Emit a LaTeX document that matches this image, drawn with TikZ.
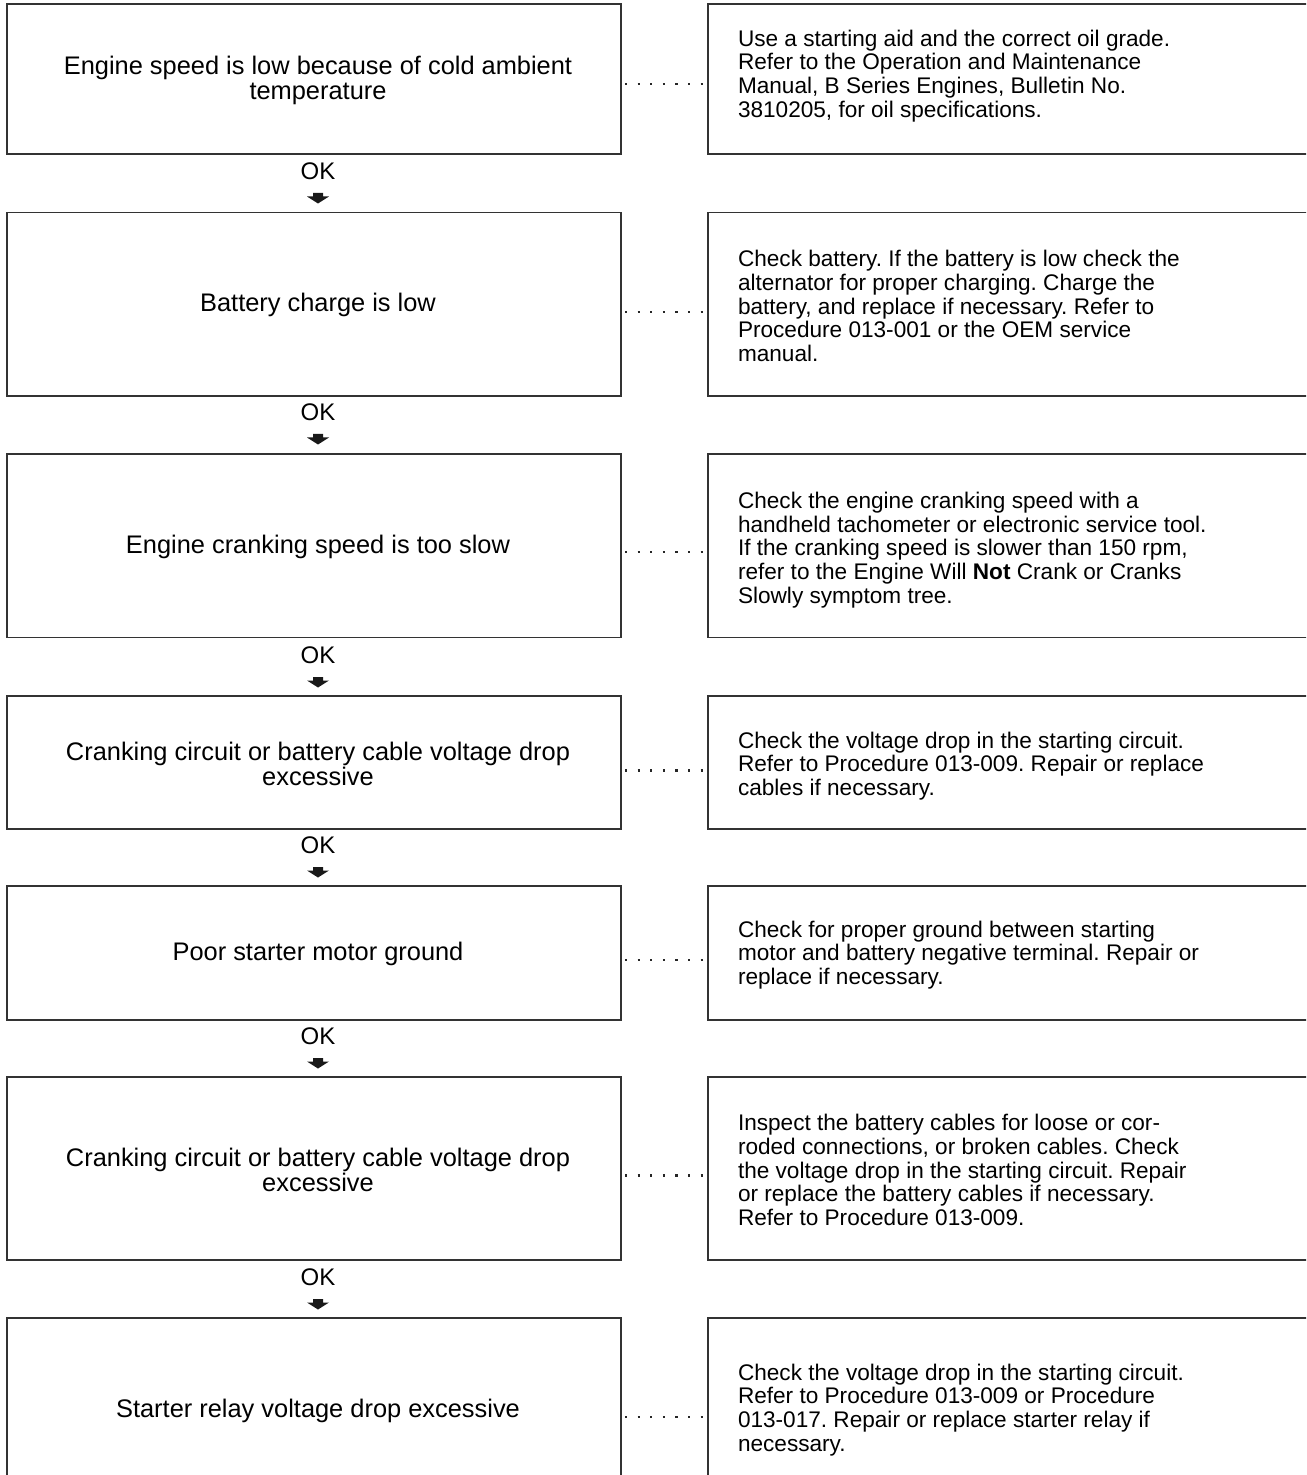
\documentclass[tikz,border=0pt]{standalone}
\usepackage{fontspec}
\setmainfont{Liberation Sans}
\usetikzlibrary{calc}
\begin{document}
\frenchspacing
\begin{tikzpicture}[x=0.5pt,y=-0.5pt,
  every node/.style={font=\fontsize{11.3}{11.9}\selectfont, inner sep=0pt, outer sep=0pt},
  lbox/.style={draw=black!80, line width=0.75pt, minimum width=307pt, minimum height=#1},
  rbox/.style={draw=black!80, line width=0.75pt, minimum width=302pt, minimum height=#1},
  ltext/.style={align=center, font=\fontsize{12.7}{12.5}\selectfont},
  rtext/.style={align=left, anchor=west},
  oklabel/.style={font=\fontsize{12}{12}\selectfont},
  leader/.style={line width=1.1pt, dash pattern=on 1.1pt off 5.2pt, black!85},
  okarrow/.pic={\fill[black!90] (-5,-5)--(5,-5)--(5,-1.5)--(11,-1.5)--(0,5.5)--(-11,-1.5)--(-5,-1.5)--cycle;}
]
\clip (0,0) rectangle (1306,1475);
\fill[white] (0,0) rectangle (1306,1475);

% left boxes
\node[lbox=75pt]    (l1) at (314,79)     {};
\node[lbox=91.75pt] (l2) at (314,304.25) {};
\node[lbox=91.75pt] (l3) at (314,545.75) {};
\node[lbox=66.5pt]  (l4) at (314,762.5)  {};
\node[lbox=67pt]    (l5) at (314,953)    {};
\node[lbox=91.5pt]  (l6) at (314,1168.5) {};
\node[lbox=92pt]    (l7) at (314,1410)   {};

% right boxes
\node[rbox=75pt]    (r1) at (1010,79)     {};
\node[rbox=91.75pt] (r2) at (1010,304.25) {};
\node[rbox=91.75pt] (r3) at (1010,545.75) {};
\node[rbox=66.5pt]  (r4) at (1010,762.5)  {};
\node[rbox=67pt]    (r5) at (1010,953)    {};
\node[rbox=91.5pt]  (r6) at (1010,1168.5) {};
\node[rbox=92pt]    (r7) at (1010,1410)   {};

% left texts
\node[ltext] (lt1) at (318,80)   {Engine speed is low because of cold ambient\\temperature};
\node[ltext] (lt2) at (318,305)  {Battery charge is low};
\node[ltext] (lt3) at (318,547)  {Engine cranking speed is too slow};
\node[ltext] (lt4) at (318,764)  {Cranking circuit or battery cable voltage drop\\excessive};
\node[ltext] (lt5) at (318,954)  {Poor starter motor ground};
\node[ltext] (lt6) at (318,1170) {Cranking circuit or battery cable voltage drop\\excessive};
\node[ltext] (lt7) at (318,1411) {Starter relay voltage drop excessive};

% right texts
\node[rtext] (rt1) at (738,76) {Use a starting aid and the correct oil grade.\\Refer to the Operation and Maintenance\\Manual, B Series Engines, Bulletin No.\\3810205, for oil specifications.};
\node[rtext] (rt2) at (738,306) {Check battery. If the battery is low check the\\alternator for proper charging. Charge the\\battery, and replace if necessary. Refer to\\Procedure 013-001 or the OEM service\\manual.};
\node[rtext] (rt3) at (738,550) {Check the engine cranking speed with a\\handheld tachometer or electronic service tool.\\If the cranking speed is slower than 150 rpm,\\refer to the Engine Will \textbf{Not} Crank or Cranks\\Slowly symptom tree.};
\node[rtext] (rt4) at (738,766) {Check the voltage drop in the starting circuit.\\Refer to Procedure 013-009. Repair or replace\\cables if necessary.};
\node[rtext] (rt5) at (738,955) {Check for proper ground between starting\\motor and battery negative terminal. Repair or\\replace if necessary.};
\node[rtext] (rt6) at (738,1170) {Inspect the battery cables for loose or cor-\\roded connections, or broken cables. Check\\the voltage drop in the starting circuit. Repair\\or replace the battery cables if necessary.\\Refer to Procedure 013-009.};
\node[rtext] (rt7) at (738,1410) {Check the voltage drop in the starting circuit.\\Refer to Procedure 013-009 or Procedure\\013-017. Repair or replace starter relay if\\necessary.};

% leader dots
\foreach \i/\d in {1/5,2/8,3/6,4/8,5/7,6/7,7/7}{
  \draw[leader] ([xshift=2pt,yshift=-\d*0.5pt]l\i.east) -- ([yshift=-\d*0.5pt]r\i.west);
}

% OK labels and arrows
\foreach \i/\y in {1/171,2/412,3/655,4/845,5/1036,6/1277}{
  \node[oklabel] (ok\i) at (318,\y) {OK};
  \pic at ($(ok\i.center)+(0,27)$) {okarrow};
}
\end{tikzpicture}
\end{document}
